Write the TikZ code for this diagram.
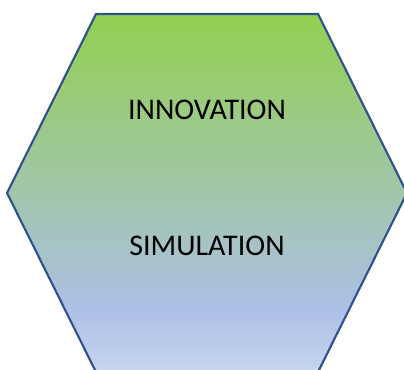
\documentclass[tikz,border=0pt]{standalone}
\usepackage{fontspec}
\setmainfont{Carlito}
\usepackage{xcolor}
\usepackage{tikz}

\definecolor{hexgreen}{RGB}{146,208,80}
\definecolor{hexblue}{RGB}{172,191,229}
\definecolor{hexpale}{RGB}{198,213,239}
\definecolor{hexline}{RGB}{47,82,143}

\pgfdeclareverticalshading{hexshade}{100bp}{color(0bp)=(hexpale); color(25bp)=(hexpale); color(34bp)=(hexblue); color(75bp)=(hexgreen); color(100bp)=(hexgreen)}

\begin{document}
\begin{tikzpicture}[x=0.75pt,y=0.75pt,yscale=-1,xscale=1]

\useasboundingbox (0,0) rectangle (404,369);

\begin{scope}
\clip (0,0) rectangle (404,369);
\draw [color=hexline, line width=1.6pt, shading=hexshade]  (96,14) -- (318,14) -- (407,193) -- (318,372) -- (96,372) -- (7,193) -- cycle ;
\end{scope}

\draw (207,110) node [inner sep=0.75pt]  [font=\fontsize{22.5}{27}\selectfont] [align=left] (innov) {INNOVATION};

\draw (207,246) node [inner sep=0.75pt]  [font=\fontsize{22.5}{27}\selectfont] [align=left] (simul) {SIMULATION};

\end{tikzpicture}
\end{document}
